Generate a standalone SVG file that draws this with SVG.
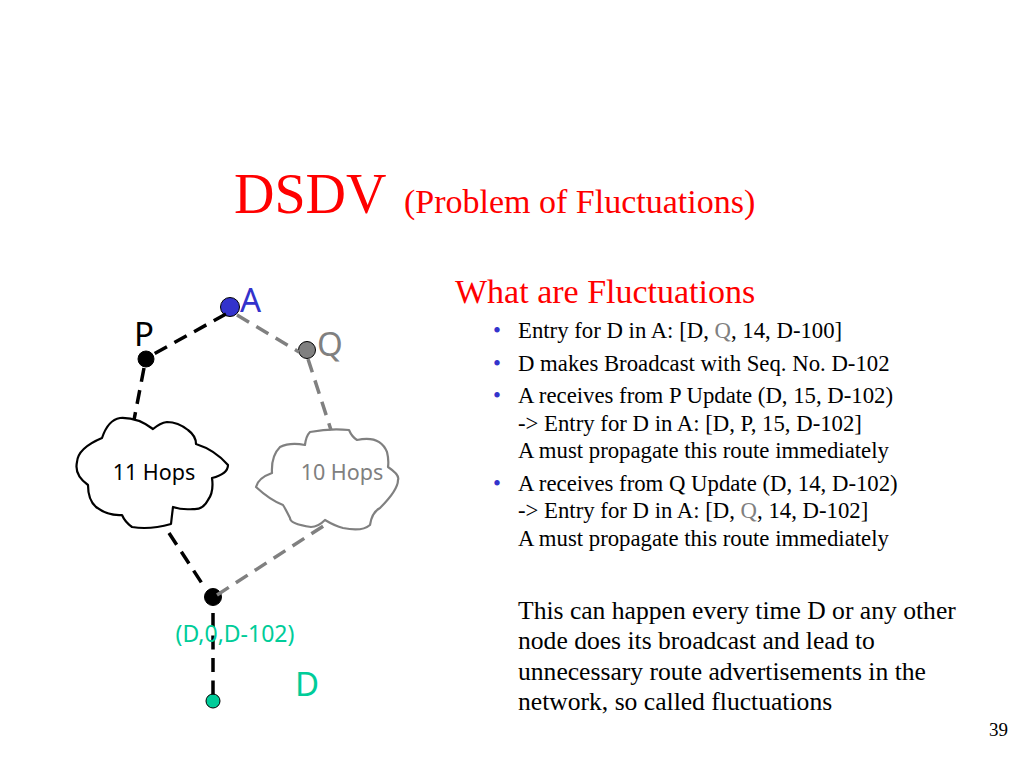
<svg xmlns="http://www.w3.org/2000/svg" width="1024" height="768" viewBox="0 0 1024 768">
<style>
.s{font-family:"Liberation Serif","Times New Roman",serif}
.t{font-family:"Noto Sans","DejaVu Sans",sans-serif}
.b{font-size:22.75px;fill:#000}
.u{font-size:22.75px;fill:#3333cc}
.p{font-size:25.6px;fill:#000}
.g{fill:#808080}
.k{fill:none;stroke:#000;stroke-width:3.5;stroke-dasharray:14 8.5}
.q{fill:none;stroke:#808080;stroke-width:3.5;stroke-dasharray:14 8.5}
.n{stroke:#000;stroke-width:1}
</style>
<rect width="1024" height="768" fill="#fff"/>
<g id="title">
<text class="s" x="234" y="213" font-size="56" fill="#ff0000">DSDV</text>
<text class="s" x="404" y="213" font-size="34" fill="#ff0000">(Problem of Fluctuations)</text>
</g>
<g id="cloud-11">
<path fill="#fff" stroke="#000" stroke-width="2.2" stroke-linejoin="round" d="M153 429Q160 423 167 422Q178 422 188 430Q196 436 196 444Q215 450 228 465Q228 474 212 478Q214 492 208 500Q203 510 193 509Q182 510 173 507Q172 515 171 524Q150 530 132 527Q125 522 122 515Q108 516 96 507Q88 500 88 485Q74 475 77 462Q78 448 102 438Q108 420 120 418Q137 417 153 429Z"/>
<text class="t" x="154" y="480" font-size="21.5" text-anchor="middle" fill="#000">11 Hops</text>
</g>
<g id="cloud-10">
<path fill="#fff" stroke="#808080" stroke-width="2.2" stroke-linejoin="round" d="M310 432Q330 428 349 430Q352 437 357 440Q380 435 387 452Q389 460 388 467Q400 475 398 480Q398 490 380 508Q372 512 370 525Q362 532 343 528Q335 526 325 520Q318 527 311 527Q290 524 290 518Q285 508 283 505Q270 500 256 487Q258 478 272 473Q271 456 280 447Q290 442 305 445Q306 436 310 432Z"/>
<text class="t g" x="342" y="480" font-size="21.5" text-anchor="middle">10 Hops</text>
</g>
<g id="node-A">
<circle class="n" cx="230" cy="307" r="9.5" fill="#3333cc"/>
<text class="t" x="240" y="312" font-size="33" fill="#3333cc">A</text>
</g>
<g id="node-P">
<circle class="n" cx="146" cy="359" r="8" fill="#000"/>
<text class="t" x="134" y="346" font-size="33" fill="#000">P</text>
</g>
<g id="node-Q">
<circle class="n" cx="307" cy="350" r="8.5" fill="#808080"/>
<text class="t g" x="317" y="356" font-size="33">Q</text>
</g>
<g id="node-hub">
<circle class="n" cx="213" cy="597" r="8.5" fill="#000"/>
</g>
<g id="node-D">
<circle class="n" cx="213" cy="701" r="7" fill="#00cc99"/>
<text class="t" x="295" y="696" font-size="33" fill="#00cc99">D</text>
</g>
<g id="connectors">
<path class="k" d="M226 314L152 355"/>
<path class="k" d="M144 368L134 420"/>
<path class="q" d="M237 315L299 352"/>
<path class="q" d="M308 359L331 430"/>
<path class="k" d="M169 533L203 585"/>
<path class="q" d="M217 595L328 523"/>
<path class="k" d="M213 613L213 695"/>
</g>
<g id="label-hub">
<text class="t" x="235" y="642" font-size="23" text-anchor="middle" fill="#00cc99">(D,0,D-102)</text>
</g>
<g id="text-panel">
<text class="s" x="455" y="303" font-size="34" fill="#ff0000">What are Fluctuations</text>
<text class="s u" x="493" y="338">•</text>
<text class="s b" x="518" y="338">Entry for D in A: [D, <tspan class="g">Q</tspan>, 14, D-100]</text>
<text class="s u" x="493" y="371">•</text>
<text class="s b" x="518" y="371">D makes Broadcast with Seq. No. D-102</text>
<text class="s u" x="493" y="403">•</text>
<text class="s b" x="518" y="403">A receives from P Update (D, 15, D-102)</text>
<text class="s b" x="518" y="431">-&gt; Entry for D in A: [D, P, 15, D-102]</text>
<text class="s b" x="518" y="458">A must propagate this route immediately</text>
<text class="s u" x="493" y="491">•</text>
<text class="s b" x="518" y="491">A receives from Q Update (D, 14, D-102)</text>
<text class="s b" x="518" y="518">-&gt; Entry for D in A: [D, <tspan class="g">Q</tspan>, 14, D-102]</text>
<text class="s b" x="518" y="546">A must propagate this route immediately</text>
<text class="s p" x="518" y="619">This can happen every time D or any other</text>
<text class="s p" x="518" y="649">node does its broadcast and lead to</text>
<text class="s p" x="518" y="680">unnecessary route advertisements in the</text>
<text class="s p" x="518" y="710">network, so called fluctuations</text>
<text class="s" x="989" y="736" font-size="19" fill="#000">39</text>
</g>
</svg>
